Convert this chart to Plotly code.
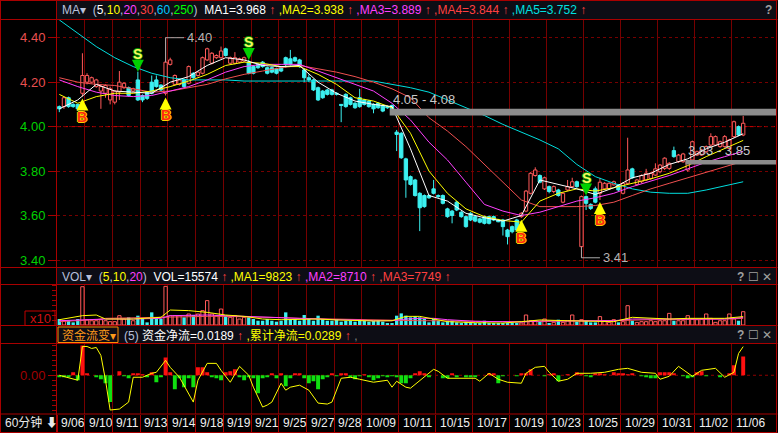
import plotly.graph_objects as go

# ---------------- data ----------------
open_ = [4.09, 4.09, 4.13, 4.10, 4.10, 4.15, 4.20, 4.20, 4.18, 4.16,
         4.15, 4.12, 4.11, 4.156, 4.175, 4.175, 4.16, 4.21, 4.14, 4.157,
         4.20, 4.21, 4.187, 4.15, 4.28, 4.19, 4.19, 4.21, 4.195, 4.24,
         4.23, 4.24, 4.30, 4.285, 4.31, 4.31, 4.35, 4.285, 4.285, 4.29,
         4.295, 4.29, 4.27, 4.28, 4.29, 4.265, 4.265, 4.26, 4.265, 4.31,
         4.305, 4.31, 4.30, 4.255, 4.22, 4.21, 4.175, 4.16, 4.165, 4.165,
         4.15, 4.10, 4.145, 4.13, 4.105, 4.13, 4.12, 4.115, 4.10, 4.105,
         4.095, 4.09, 4.095, 3.975, 3.97, 3.855, 3.775, 3.76, 3.70, 3.69,
         3.69, 3.72, 3.69, 3.69, 3.63, 3.62, 3.66, 3.615, 3.595, 3.61,
         3.595, 3.585, 3.595, 3.595, 3.595, 3.58, 3.58, 3.535, 3.55, 3.58,
         3.595, 3.62, 3.70, 3.78, 3.78, 3.72, 3.73, 3.708, 3.715, 3.66,
         3.715, 3.73, 3.752, 3.46, 3.685, 3.65, 3.72, 3.70, 3.72, 3.72,
         3.738, 3.738, 3.70, 3.745, 3.81, 3.74, 3.752, 3.76, 3.767, 3.782,
         3.797, 3.812, 3.812, 3.892, 3.842, 3.842, 3.805, 3.85, 3.872, 3.872,
         3.887, 3.917, 3.917, 3.91, 3.91, 3.902, 3.955, 4.00, 3.962]
high = [4.095, 4.135, 4.135, 4.105, 4.10, 4.33, 4.24, 4.225, 4.215, 4.19,
        4.19, 4.18, 4.165, 4.25, 4.20, 4.18, 4.175, 4.247, 4.145, 4.16,
        4.23, 4.23, 4.19, 4.40, 4.31, 4.235, 4.215, 4.215, 4.275, 4.245,
        4.25, 4.315, 4.355, 4.335, 4.325, 4.36, 4.355, 4.315, 4.335, 4.31,
        4.315, 4.30, 4.275, 4.285, 4.295, 4.27, 4.27, 4.265, 4.27, 4.315,
        4.345, 4.315, 4.305, 4.26, 4.235, 4.215, 4.18, 4.165, 4.17, 4.17,
        4.155, 4.10, 4.15, 4.135, 4.11, 4.17, 4.125, 4.12, 4.105, 4.11,
        4.10, 4.095, 4.10, 3.985, 3.975, 3.86, 3.78, 3.765, 3.705, 3.695,
        3.695, 3.76, 3.695, 3.695, 3.635, 3.625, 3.665, 3.62, 3.60, 3.615,
        3.60, 3.59, 3.60, 3.60, 3.60, 3.585, 3.585, 3.54, 3.555, 3.585,
        3.615, 3.715, 3.795, 3.817, 3.785, 3.775, 3.735, 3.735, 3.72, 3.705,
        3.76, 3.77, 3.757, 3.69, 3.69, 3.655, 3.73, 3.77, 3.75, 3.75,
        3.757, 3.742, 3.75, 3.95, 3.815, 3.765, 3.785, 3.81, 3.795, 3.835,
        3.832, 3.862, 3.84, 3.91, 3.877, 3.882, 3.847, 3.937, 3.892, 3.90,
        3.915, 3.97, 3.96, 3.937, 3.962, 3.945, 4.027, 4.005, 4.048]
low = [4.065, 4.08, 4.085, 4.085, 4.07, 4.135, 4.19, 4.195, 4.175, 4.08,
       4.13, 4.10, 4.10, 4.12, 4.17, 4.135, 4.155, 4.115, 4.11, 4.12,
       4.145, 4.175, 4.16, 4.14, 4.275, 4.185, 4.185, 4.175, 4.19, 4.215,
       4.225, 4.235, 4.295, 4.28, 4.305, 4.305, 4.315, 4.28, 4.28, 4.285,
       4.29, 4.235, 4.235, 4.26, 4.265, 4.235, 4.24, 4.235, 4.245, 4.265,
       4.275, 4.29, 4.265, 4.20, 4.20, 4.16, 4.115, 4.125, 4.14, 4.14,
       4.14, 4.02, 4.085, 4.095, 4.08, 4.085, 4.095, 4.085, 4.06, 4.08,
       4.065, 4.08, 4.075, 3.89, 3.855, 3.68, 3.735, 3.685, 3.53, 3.635,
       3.675, 3.695, 3.68, 3.65, 3.59, 3.565, 3.62, 3.59, 3.545, 3.575,
       3.57, 3.565, 3.56, 3.56, 3.575, 3.57, 3.51, 3.47, 3.52, 3.53,
       3.59, 3.615, 3.695, 3.775, 3.745, 3.715, 3.70, 3.70, 3.685, 3.655,
       3.71, 3.725, 3.725, 3.41, 3.625, 3.625, 3.655, 3.67, 3.715, 3.715,
       3.735, 3.71, 3.695, 3.74, 3.765, 3.735, 3.745, 3.755, 3.76, 3.778,
       3.79, 3.805, 3.805, 3.86, 3.837, 3.837, 3.797, 3.845, 3.868, 3.868,
       3.882, 3.912, 3.912, 3.905, 3.905, 3.897, 3.95, 3.957, 3.957]
close = [4.08, 4.13, 4.09, 4.09, 4.08, 4.23, 4.23, 4.22, 4.21, 4.18,
         4.185, 4.17, 4.16, 4.20, 4.195, 4.14, 4.17, 4.12, 4.12, 4.127,
         4.15, 4.18, 4.165, 4.29, 4.30, 4.23, 4.21, 4.18, 4.27, 4.22,
         4.245, 4.31, 4.35, 4.33, 4.32, 4.34, 4.32, 4.31, 4.31, 4.305,
         4.31, 4.24, 4.24, 4.265, 4.27, 4.24, 4.245, 4.24, 4.25, 4.28,
         4.28, 4.295, 4.27, 4.22, 4.21, 4.165, 4.12, 4.13, 4.145, 4.145,
         4.145, 4.095, 4.09, 4.10, 4.085, 4.09, 4.10, 4.09, 4.08, 4.085,
         4.07, 4.085, 4.08, 3.965, 3.86, 3.76, 3.74, 3.69, 3.635, 3.64,
         3.68, 3.70, 3.685, 3.655, 3.595, 3.60, 3.625, 3.595, 3.55, 3.58,
         3.575, 3.57, 3.565, 3.565, 3.58, 3.572, 3.55, 3.505, 3.527, 3.535,
         3.61, 3.71, 3.79, 3.805, 3.75, 3.77, 3.708, 3.73, 3.69, 3.70,
         3.73, 3.752, 3.73, 3.685, 3.655, 3.632, 3.66, 3.75, 3.745, 3.745,
         3.752, 3.715, 3.745, 3.805, 3.77, 3.76, 3.78, 3.79, 3.79, 3.81,
         3.827, 3.858, 3.835, 3.865, 3.872, 3.877, 3.842, 3.932, 3.887, 3.895,
         3.91, 3.955, 3.955, 3.932, 3.955, 3.94, 4.022, 3.962, 4.015]
volume = [7000, 5000, 5000, 3100, 7000, 44800, 6200, 5000, 5000, 6200,
          5000, 3900, 3900, 10900, 7000, 9000, 5000, 10900, 7000, 3100,
          14800, 9000, 7000, 45200, 10900, 10900, 10900, 9000, 12900, 11700,
          12900, 16800, 28500, 12900, 10900, 18700, 10900, 9000, 10900, 7000,
          9000, 9000, 7000, 5000, 5000, 7000, 5000, 3900, 5000, 14800,
          7000, 7000, 5000, 11700, 7000, 5000, 10900, 7000, 5000, 5000,
          7000, 3900, 5000, 5000, 3900, 7000, 5000, 3900, 5000, 5000,
          3900, 2300, 2300, 10900, 13600, 10900, 9000, 10100, 9000, 7000,
          3100, 7000, 5000, 3100, 5000, 5000, 3100, 2300, 3900, 2300,
          2300, 2300, 5000, 2300, 2300, 2300, 2300, 2300, 2300, 2300,
          2300, 11700, 5000, 5000, 3900, 7000, 2300, 3100, 6200, 3100,
          5000, 11700, 3900, 6200, 5000, 3100, 3100, 9800, 5000, 3100,
          6200, 3100, 3900, 22600, 5000, 3100, 3900, 3900, 5000, 3900,
          5000, 5000, 13600, 5000, 5000, 5000, 10900, 7000, 6200, 7000,
          12900, 7800, 3100, 5000, 5000, 12900, 7000, 5000, 15574]
flow = [-0.002, -0.002, -0.002, 0.003, -0.005, 0.030, 0.002, 0.0, -0.002, -0.004,
        -0.008, -0.027, 0.0, 0.004, -0.001, -0.003, 0.002, 0.002, 0.001, -0.002,
        0.003, -0.007, -0.002, 0.018, 0.003, -0.014, -0.003, -0.012, -0.003, -0.012,
        0.008, 0.008, 0.003, -0.002, -0.003, -0.005, 0.003, 0.004, 0.006, -0.002,
        -0.005, -0.002, -0.003, -0.018, -0.003, -0.002, 0.002, -0.003, 0.002, -0.011,
        -0.003, 0.002, 0.002, -0.003, -0.008, -0.006, -0.014, -0.004, -0.002, 0.002,
        -0.001, 0.002, 0.002, -0.002, -0.004, -0.001, 0.001, -0.002, -0.005, -0.003,
        -0.001, -0.002, -0.001, -0.002, -0.008, -0.008, -0.003, 0.002, 0.004, 0.002,
        -0.002, 0.0, 0.0, -0.003, -0.003, 0.002, -0.002, 0.0, -0.002, -0.002,
        -0.002, 0.0, 0.0, 0.002, 0.002, -0.008, -0.001, 0.0, 0.0, -0.001,
        0.002, 0.002, 0.006, 0.0, 0.0, -0.001, 0.001, 0.002, -0.006, 0.0,
        0.001, 0.0, 0.003, 0.001, -0.001, -0.002, 0.002, 0.002, 0.001, 0.0,
        0.003, 0.002, 0.002, 0.001, 0.002, 0.0, -0.001, -0.002, -0.003, -0.003,
        0.003, 0.003, 0.003, 0.002, 0.0, -0.001, -0.003, -0.002, 0.003, 0.004,
        -0.001, 0.0, 0.0, -0.002, 0.0, 0.002, 0.010, 0.0, 0.0189]

# moving-average lines, read at every 4th bar
ma_idx = list(range(0, 149, 4))
ma5 = [4.08, 4.12, 4.19, 4.16, 4.155, 4.15, 4.20, 4.225, 4.275, 4.31, 4.30, 4.275, 4.27,
       4.275, 4.20, 4.15, 4.115, 4.10, 4.09, 3.90, 3.69, 3.665, 3.61, 3.59, 3.575, 3.60,
       3.76, 3.74, 3.72, 3.695, 3.725, 3.77, 3.79, 3.83, 3.855, 3.90, 3.93, 3.968]
ma10 = [4.145, 4.105, 4.135, 4.15, 4.15, 4.16, 4.18, 4.205, 4.235, 4.275, 4.29, 4.285, 4.27,
        4.27, 4.235, 4.19, 4.13, 4.115, 4.085, 3.97, 3.80, 3.70, 3.63, 3.595, 3.578, 3.57,
        3.665, 3.70, 3.72, 3.71, 3.725, 3.745, 3.765, 3.79, 3.825, 3.865, 3.90, 3.938]
ma20 = [4.21, 4.18, 4.155, 4.14, 4.135, 4.14, 4.16, 4.18, 4.21, 4.245, 4.27, 4.28, 4.28,
        4.28, 4.25, 4.22, 4.19, 4.16, 4.105, 4.03, 3.93, 3.85, 3.75, 3.65, 3.62, 3.60,
        3.615, 3.64, 3.665, 3.68, 3.70, 3.73, 3.755, 3.78, 3.81, 3.84, 3.865, 3.889]
ma30 = [4.22, 4.20, 4.19, 4.185, 4.17, 4.155, 4.16, 4.175, 4.19, 4.215, 4.235, 4.25, 4.265,
        4.275, 4.26, 4.245, 4.225, 4.20, 4.17, 4.13, 4.04, 3.98, 3.91, 3.83, 3.75, 3.67,
        3.64, 3.64, 3.64, 3.645, 3.66, 3.69, 3.72, 3.745, 3.77, 3.795, 3.82, 3.844]
ma60 = [4.48, 4.42, 4.36, 4.31, 4.27, 4.24, 4.22, 4.21, 4.21, 4.21, 4.205, 4.205, 4.205,
        4.205, 4.205, 4.205, 4.205, 4.205, 4.19, 4.175, 4.155, 4.12, 4.085, 4.05, 4.01, 3.975,
        3.94, 3.90, 3.83, 3.775, 3.745, 3.72, 3.705, 3.70, 3.70, 3.715, 3.735, 3.752]

vma_idx = [0, 5, 8, 10, 16, 22, 24, 28, 32, 36, 40, 44, 48, 52, 56, 60, 64, 68, 72, 75, 78,
           81, 84, 90, 96, 100, 104, 110, 116, 120, 124, 128, 132, 136, 140, 144, 148]
vma5 = [6200, 10900, 11700, 7000, 7000, 9000, 17500, 16800, 14800, 11700, 10100, 7000, 6200,
        7000, 7000, 5900, 5000, 4700, 5000, 10100, 10100, 7000, 3900, 2700, 2300, 3900, 5900,
        5000, 4700, 3900, 9000, 7800, 7000, 7800, 8200, 7800, 9823]
vma10 = [5000, 5900, 6200, 7000, 7000, 7800, 10900, 11700, 11700, 10900, 10100, 8600, 7800,
         7000, 7000, 6200, 5900, 5000, 5000, 7000, 7800, 7800, 6200, 4300, 3900, 3500, 4700,
         5000, 5000, 5000, 7000, 7000, 6200, 7000, 7000, 7000, 8710]
vma20 = [3900, 5000, 6200, 7800, 8600, 9000, 9400, 10100, 10100, 10100, 9800, 9000, 8600,
         7800, 7400, 7000, 6200, 5900, 5000, 5000, 5000, 5000, 4700, 3900, 3900, 3900, 4300,
         4700, 5000, 5000, 5900, 6200, 6200, 6200, 6200, 7000, 7749]

flow_line_idx = [0, 4, 5, 6, 7, 8, 9, 10, 11, 13, 15, 16, 18, 20, 21, 23, 24, 26, 29, 30,
                 32, 34, 35, 37, 39, 41, 42, 44, 45, 46, 48, 49, 50, 52, 54, 56, 58, 59, 61, 63,
                 65, 68, 71, 72, 73, 75, 76, 79, 81, 82, 84, 90, 91, 93, 95, 97, 100, 101, 103, 105,
                 106, 108, 110, 112, 115, 118, 121, 123, 126, 129, 130, 132, 134, 137, 139, 142, 144, 146, 147, 148]
flow_line = [0.0, -0.005, 0.029, 0.029, 0.027, 0.028, 0.020, -0.005, -0.035, -0.034,
             -0.027, -0.002, -0.002, 0.002, 0.003, 0.015, 0.008, -0.002, -0.027, -0.005,
             0.012, 0.012, 0.005, -0.007, 0.009, 0.0, -0.012, -0.032, -0.030, -0.027,
             -0.008, -0.015, -0.012, -0.010, -0.015, -0.028, -0.029, -0.027, -0.003, -0.002,
             -0.004, -0.007, -0.005, -0.012, -0.006, -0.012, -0.013, -0.002, 0.006, 0.004,
             -0.003, -0.003, -0.006, 0.002, -0.004, -0.007, -0.008, 0.002, 0.008, 0.009,
             0.003, -0.006, -0.004, 0.002, 0.002, 0.003, 0.006, 0.007, 0.003, 0.002,
             -0.004, -0.001, 0.009, -0.001, 0.005, 0.007, -0.002, 0.003, 0.022, 0.0289]

tick_idx = [0, 6, 12, 18, 24, 30, 36, 42, 48, 54, 60, 66, 74, 82, 90, 98, 106, 114, 122, 130, 138, 146]
tick_labels = ["9/06", "9/10", "9/11", "9/13", "9/14", "9/18", "9/19", "9/21", "9/25", "9/27", "9/28",
               "10/09", "10/11", "10/15", "10/17", "10/19", "10/23", "10/25", "10/29", "10/31", "11/02", "11/06"]
price_ticks = [3.40, 3.60, 3.80, 4.00, 4.20, 4.40]

buy_idx = [5, 23, 100, 117]
sell_idx = [17, 41, 114]
band_low = [4.05, 3.83]
band_high = [4.08, 3.85]
band_start = [72, 136]
band_labels = ["4.05 - 4.08", "3.83 - 3.85"]
mark_idx = [23, 113]
mark_labels = ["4.40", "3.41"]

ma_periods = [5, 10, 20, 30, 60, 250]
ma_last = [3.968, 3.938, 3.889, 3.844, 3.752]
vol_last = 15574
vol_ma_last = [9823, 8710, 7749]
flow_last = [0.0189, 0.0289]

# ---------------- styling ----------------
FONT = "Liberation Sans, Arial, Noto Sans CJK SC, sans-serif"
RED = "#a80000"
GRID = "#760000"
UPC = "#ff5a5a"
DNC = "#3cf0f0"
W, H = 778, 433
L, R, T, B = 57, 776, 20, 414
XMAX = 155.1


def PX(p):
    return (p - L) / (R - L)


def PY(p):
    return (B - p) / (B - T)


n = len(close)
xs = list(range(n))
up = [close[i] >= open_[i] for i in xs]

fig = go.Figure()

# ---- candles: wicks ----
wx_up, wy_up, wx_dn, wy_dn = [], [], [], []
for i in xs:
    o, h, l, c = open_[i], high[i], low[i], close[i]
    top, bot = max(o, c), min(o, c)
    if up[i]:
        wx_up += [i, i, None, i, i, None]
        wy_up += [top, h, None, bot, l, None]
    else:
        wx_dn += [i, i, None]
        wy_dn += [l, h, None]


def bodies(flag):
    sel = [i for i in xs if up[i] == flag]
    base = [min(open_[i], close[i]) for i in sel]
    hgt = [max(abs(close[i] - open_[i]), 0.004) for i in sel]
    return sel, base, hgt


bx, bb, bh = bodies(True)
fig.add_trace(go.Bar(x=bx, y=bh, base=bb, width=0.72, yaxis="y",
                     marker=dict(color="#000000", line=dict(color=UPC, width=1))))
bx, bb, bh = bodies(False)
fig.add_trace(go.Bar(x=bx, y=bh, base=bb, width=0.72, yaxis="y",
                     marker=dict(color=DNC, line=dict(color=DNC, width=1))))
fig.add_trace(go.Scatter(x=wx_up, y=wy_up, mode="lines", yaxis="y",
                         line=dict(color=UPC, width=1)))
fig.add_trace(go.Scatter(x=wx_dn, y=wy_dn, mode="lines", yaxis="y",
                         line=dict(color=DNC, width=1)))

# ---- MA lines ----
for vals, col in [(ma60, "#00dede"), (ma30, "#f05050"), (ma20, "#ff40ff"),
                  (ma10, "#ffff00"), (ma5, "#ffffff")]:
    fig.add_trace(go.Scatter(x=ma_idx, y=vals, mode="lines", yaxis="y",
                             line=dict(color=col, width=1)))

# ---- volume ----
vu = [i for i in xs if up[i]]
vd = [i for i in xs if not up[i]]
fig.add_trace(go.Bar(x=vu, y=[volume[i] for i in vu], width=0.72, yaxis="y2",
                     marker=dict(color="#000000", line=dict(color=UPC, width=1))))
fig.add_trace(go.Bar(x=vd, y=[volume[i] for i in vd], width=0.72, yaxis="y2",
                     marker=dict(color=DNC, line=dict(color=DNC, width=0))))
for vals, col in [(vma20, "#f05050"), (vma10, "#ff40ff"), (vma5, "#ffff00")]:
    fig.add_trace(go.Scatter(x=vma_idx, y=vals, mode="lines", yaxis="y2",
                             line=dict(color=col, width=1)))

# ---- fund flow ----
fp = [i for i in xs if flow[i] > 0]
fn = [i for i in xs if flow[i] < 0]
fig.add_trace(go.Bar(x=fp, y=[flow[i] for i in fp], width=0.85, yaxis="y3",
                     marker=dict(color="#ff1010", line=dict(width=0))))
fig.add_trace(go.Bar(x=fn, y=[flow[i] for i in fn], width=0.85, yaxis="y3",
                     marker=dict(color="#10e010", line=dict(width=0))))
fig.add_trace(go.Scatter(x=flow_line_idx, y=flow_line, mode="lines", yaxis="y3",
                         line=dict(color="#ffff00", width=1)))

# ---------------- shapes ----------------
shapes = []


def prect(x0, y0, x1, y1, fill=None, line=None, layer="below"):
    shapes.append(dict(type="rect", xref="paper", yref="paper",
                       x0=PX(x0), x1=PX(x1), y0=PY(y1), y1=PY(y0),
                       fillcolor=fill or "rgba(0,0,0,0)",
                       line=dict(color=line or "rgba(0,0,0,0)", width=1 if line else 0),
                       layer=layer))


def pline(x0, y0, x1, y1, color=RED, layer="above"):
    shapes.append(dict(type="line", xref="paper", yref="paper",
                       x0=PX(x0), x1=PX(x1), y0=PY(y0), y1=PY(y1),
                       line=dict(color=color, width=1), layer=layer))


# header strips
prect(L, 0, R, 19.5, fill="#0d0d15")
prect(L, 268, R, 284.5, fill="#0d0d15")
prect(L, 326, R, 343, fill="#0d0d15")

# frame lines
for yy in [0.5, 19.5, 267.5, 284.5, 325.5, 343.5, 414, 432.5]:
    pline(0, yy, 777.5, yy)
for xx in [0.5, 56.5, 776.5]:
    pline(xx, 0, xx, 433)

# x10 box and fund selector box
prect(25, 311, 55, 325.5, line="#c00000", layer="above")
prect(58, 327, 118, 342.5, line="#ff8c00", layer="above")

# 4.00 reference line
shapes.append(dict(type="line", xref="paper", yref="y", x0=0, x1=1, y0=4.0, y1=4.0,
                   line=dict(color="#d00000", width=1, dash="4px,3px"), layer="below"))
# zero line of fund flow
shapes.append(dict(type="line", xref="paper", yref="y3", x0=0, x1=1, y0=0, y1=0,
                   line=dict(color="#900000", width=1, dash="dot"), layer="below"))

# price bands
for lo, hi, st in zip(band_low, band_high, band_start):
    shapes.append(dict(type="rect", xref="x", yref="y", x0=st - 0.5, x1=XMAX, y0=lo, y1=hi,
                       fillcolor="#8c8c8c", line=dict(width=0), layer="above"))

# high / low marks
annotations = []
for i, lab in zip(mark_idx, mark_labels):
    ext = high[i] if abs(float(lab) - high[i]) < abs(float(lab) - low[i]) else low[i]
    edge = max(open_[i], close[i]) if ext == high[i] else min(open_[i], close[i])
    shapes.append(dict(type="line", xref="x", yref="y", x0=i, x1=i, y0=edge, y1=ext,
                       line=dict(color="#a8a8a8", width=1)))
    shapes.append(dict(type="line", xref="x", yref="y", x0=i, x1=i + 4, y0=ext, y1=ext,
                       line=dict(color="#a8a8a8", width=1)))
    annotations.append(dict(x=i + 4, y=ext, xref="x", yref="y", text=lab, showarrow=False,
                            xanchor="left", yanchor="middle", xshift=1,
                            font=dict(size=13, color="#b4b4b4")))

for lo, hi, st, lab in zip(band_low, band_high, band_start, band_labels):
    annotations.append(dict(x=st - 0.3, y=hi, xref="x", yref="y", text=lab, showarrow=False,
                            xanchor="left", yanchor="bottom", yshift=0,
                            font=dict(size=13, color="#c8c8c8")))

# buy / sell signals
yel_outline = "1px 0 0 #ffd000, -1px 0 0 #ffd000, 0 1px 0 #ffd000, 0 -1px 0 #ffd000"
grn_outline = "1px 0 0 #009000, -1px 0 0 #009000, 0 1px 0 #009000, 0 -1px 0 #009000"
for i in buy_idx:
    annotations.append(dict(x=i, y=low[i], xref="x", yref="y", text="<b>B</b>",
                            showarrow=True, arrowhead=2, arrowsize=0.8, arrowwidth=3,
                            arrowcolor="#ffff00", ax=0, ay=18, yshift=-2, standoff=0,
                            font=dict(size=14, color="#ff2a10", shadow=yel_outline)))
for i in sell_idx:
    annotations.append(dict(x=i, y=high[i], xref="x", yref="y", text="<b>S</b>",
                            showarrow=True, arrowhead=2, arrowsize=0.8, arrowwidth=3,
                            arrowcolor="#00d000", ax=0, ay=-18, standoff=0,
                            font=dict(size=14, color="#f8f860", shadow=grn_outline)))

# date labels
for t, lab in zip(tick_idx, tick_labels):
    annotations.append(dict(x=t - 0.5, y=PY(423), xref="x", yref="paper", text=lab,
                            showarrow=False, xanchor="left", yanchor="middle", xshift=2,
                            font=dict(size=12, color="#f0f0f0")))


def span(c, t):
    return f'<span style="color:{c}">{t}</span>'


ARW = span("#ff4040", "↑")
PUNC = "#b8c0dc"
per_cols = ["#ffffff", "#ffff00", "#ff40ff", "#ff4040", "#00c8ff", "#00ff00"]
ma_cols = ["#ffffff", "#ffff00", "#ff40ff", "#ff4040", "#00e0e0"]

top = span(PUNC, "MA▾") + "\u00a0\u00a0" + span(PUNC, "(")
top += span(PUNC, ",").join(span(c, p) for c, p in zip(per_cols, ma_periods))
top += span(PUNC, ")") + "\u00a0\u00a0"
top += " ".join(span(c, ("," if k else "") + f"MA{k + 1}={v:.3f}") + " " + ARW
                for k, (c, v) in enumerate(zip(ma_cols, ma_last)))

vcols = ["#ffff00", "#ff40ff", "#ff4040"]
vtxt = span(PUNC, "VOL▾") + "\u00a0\u00a0" + span(PUNC, "(") + span("#ffff00", "5") + span(PUNC, ",") \
    + span("#ffff00", "10") + span(PUNC, ",") + span("#ff40ff", "20") + span(PUNC, ")") + "\u00a0\u00a0"
vtxt += span("#ffffff", f"VOL={vol_last}") + " " + ARW + " "
vtxt += " ".join(span(c, f",MA{k + 1}={v}") + " " + ARW for k, (c, v) in enumerate(zip(vcols, vol_ma_last)))

ftxt = span(PUNC, "(5)") + " " + span("#ffffff", f"资金净流={flow_last[0]:.4f}") + " " + ARW + " " \
    + span("#ffff00", f",累计净流={flow_last[1]:.4f}") + " " + ARW + " " + span("#808080", ",")


def hdr(px, py, text, size=12, anchor="left", color="#e0e0e0"):
    annotations.append(dict(xref="paper", yref="paper", x=PX(px), y=PY(py), text=text,
                            showarrow=False, xanchor=anchor, yanchor="middle",
                            font=dict(size=size, color=color)))


hdr(60, 10, top)
hdr(60, 276.5, vtxt)
hdr(60, 335, "资金流变▾", color="#ff9a1a")
hdr(122, 335, ftxt)
hdr(774, 10, "<b>?</b>", anchor="right", color="#a0a0a0")
hdr(774, 276.5, "<b>?</b> ☐ ✕", anchor="right", color="#a0a0a0")
hdr(774, 335, "<b>?</b> ☐ ✕", anchor="right", color="#a0a0a0")
hdr(40, 318.5, "x10", anchor="center", color="#d01010", size=13)
hdr(3, 423, "60分钟 <b>⬇</b>", color="#e8e8e8")

price_text = [span("#e85050" if v > 4.0 else "#00d000", f"{v:.2f}") for v in price_ticks]

fig.update_layout(
    width=W, height=H,
    margin=dict(l=L, r=W - R, t=T, b=H - B, pad=0, autoexpand=False),
    paper_bgcolor="#000000", plot_bgcolor="#000000",
    showlegend=False, barmode="overlay", hovermode=False,
    font=dict(family=FONT, size=12, color="#e0e0e0"),
    shapes=shapes, annotations=annotations,
    xaxis=dict(range=[-0.5, XMAX], anchor="y3", tickmode="array", automargin=False,
               tickvals=[t - 0.5 for t in tick_idx], showticklabels=False,
               ticks="outside", ticklen=19, tickcolor=RED, tickwidth=1,
               showgrid=True, gridcolor=GRID, gridwidth=1, zeroline=False,
               showline=False, fixedrange=True),
    yaxis=dict(domain=[PY(267), PY(20)], range=[3.3685, 4.4796], anchor="x", automargin=False,
               tickmode="array", tickvals=price_ticks, ticktext=price_text,
               ticks="outside", ticklen=8, tickcolor=RED, showgrid=True,
               gridcolor=GRID, griddash="dot", zeroline=False, showline=False,
               tickfont=dict(size=13), fixedrange=True),
    yaxis2=dict(domain=[PY(325), PY(285)], range=[0, 46800], anchor="x", automargin=False,
                showgrid=False, zeroline=False, showticklabels=False,
                ticks="outside", ticklen=4, tickcolor=RED, tickmode="linear",
                tick0=0, dtick=5850, showline=False, fixedrange=True),
    yaxis3=dict(domain=[0, PY(343.5)], range=[-0.039, 0.032], anchor="x", automargin=False,
                tickmode="array", tickvals=[0], ticktext=["0.00"], ticks="outside",
                ticklen=8, tickcolor=RED, tickfont=dict(size=13, color="#a00000"),
                showgrid=False, zeroline=False, showline=False, fixedrange=True,
                minor=dict(ticks="outside", ticklen=4, tickcolor=RED,
                           tickmode="linear", tick0=0, dtick=0.005, showgrid=False)),
)

fig.write_html("out.html", config={"displayModeBar": False, "staticPlot": True},
               post_script="document.body.style.margin='0';document.body.style.overflow='hidden';")
